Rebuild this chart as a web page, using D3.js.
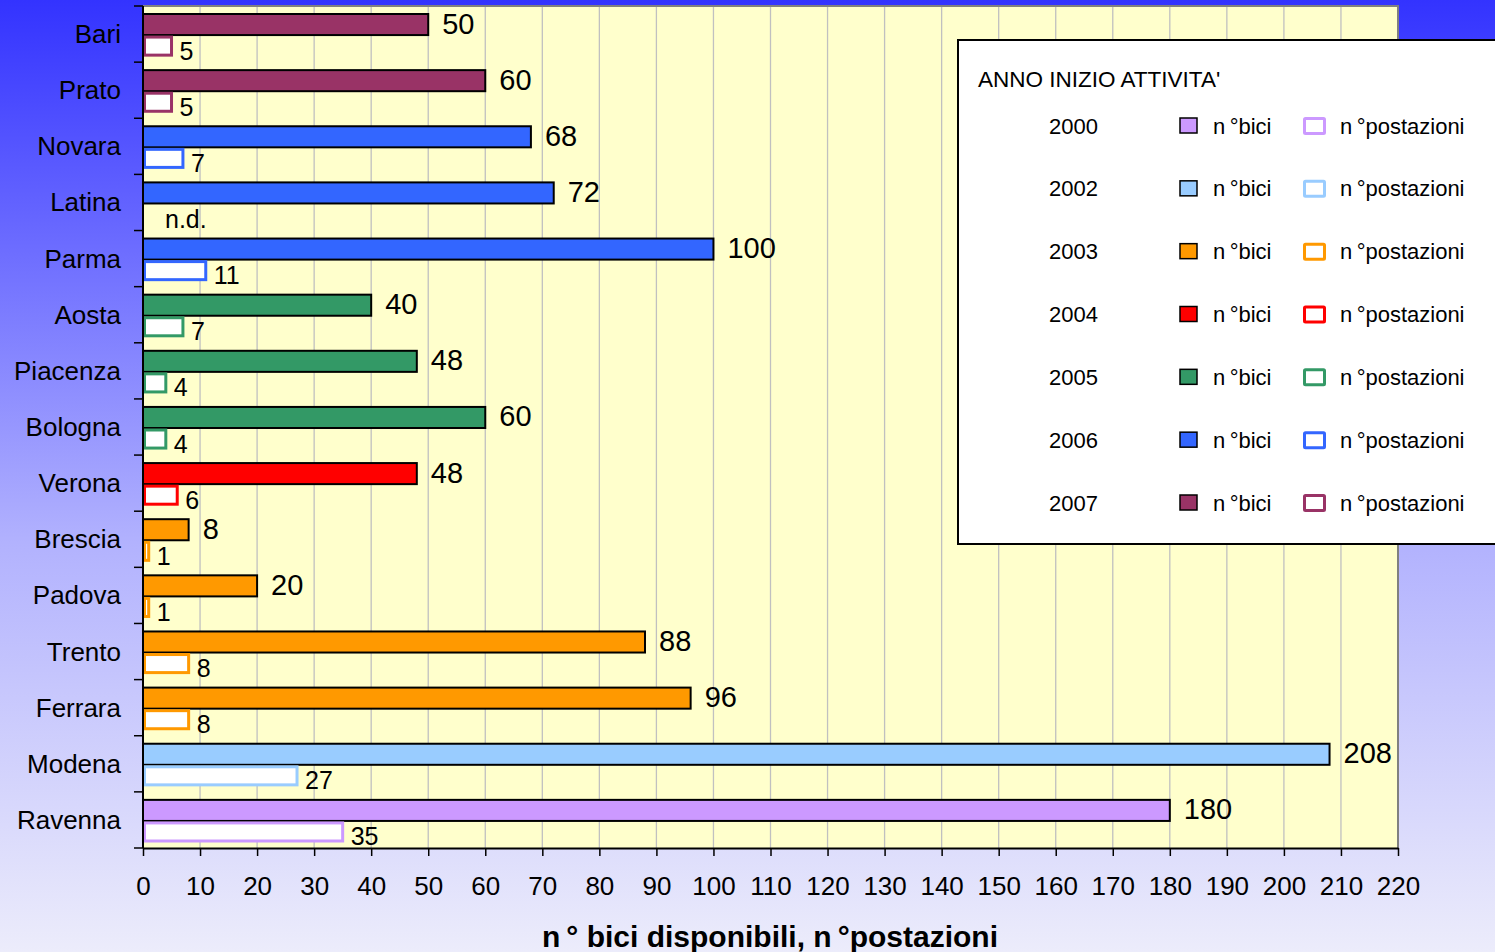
<!DOCTYPE html>
<html>
<head>
<meta charset="utf-8">
<style>
html,body{margin:0;padding:0;}
body{width:1495px;height:952px;overflow:hidden;font-family:"Liberation Sans",Arial,sans-serif;}
svg{display:block;}
</style>
</head>
<body>
<div id="chart"></div>
<script src="https://d3js.org/d3.v7.min.js"></script>
<script>
// data
const cities = ["Bari","Prato","Novara","Latina","Parma","Aosta","Piacenza","Bologna","Verona","Brescia","Padova","Trento","Ferrara","Modena","Ravenna"];
const bici = [50,60,68,72,100,40,48,60,48,8,20,88,96,208,180];
const postazioni = [5,5,7,null,11,7,4,4,6,1,1,8,8,27,35];
const startYear = [2007,2007,2006,2006,2006,2005,2005,2005,2004,2003,2003,2003,2003,2002,2000];
const years = [2000,2002,2003,2004,2005,2006,2007];
const yearColors = ["#cc99ff","#99ccff","#ff9900","#ff0000","#339966","#3366ff","#993366"];
const xTicks = d3.range(0,221,10);

const W = 1495, H = 952;
const svg = d3.select("#chart").append("svg").attr("width",W).attr("height",H);

const defs = svg.append("defs");
const grad = defs.append("linearGradient").attr("id","bg").attr("x1",0).attr("y1",0).attr("x2",0).attr("y2",1);
grad.append("stop").attr("offset","0").attr("stop-color","#3333ff");
grad.append("stop").attr("offset","0.25").attr("stop-color","#6a6aff");
grad.append("stop").attr("offset","0.57").attr("stop-color","#b2b2fe");
grad.append("stop").attr("offset","1").attr("stop-color","#ececfb");
svg.append("rect").attr("width",W).attr("height",H).attr("fill","url(#bg)");

const color = d3.scaleOrdinal().domain(years).range(yearColors);

const x = d3.scaleLinear().domain([0,220]).range([143,1398]);
const y = d3.scaleBand().domain(cities).range([6,848]);
const sub = d3.scaleBand().domain(["bici","post"]).range([8,y.bandwidth()-6]);

// plot area
svg.append("rect")
  .attr("x",x(0)).attr("y",y.range()[0])
  .attr("width",x(220)-x(0)).attr("height",y.range()[1]-y.range()[0])
  .attr("fill","#ffffcc");

// gridlines
svg.append("g").selectAll("line").data(xTicks.slice(1,-1)).enter().append("line")
  .attr("x1",d=>x(d)).attr("x2",d=>x(d))
  .attr("y1",y.range()[0]).attr("y2",y.range()[1])
  .attr("stroke","#c0c0c0").attr("stroke-width",1.3);

// top & right border
svg.append("path")
  .attr("d",`M${x(0)},${y.range()[0]}H${x(220)}V${y.range()[1]}`)
  .attr("fill","none").attr("stroke","#808080").attr("stroke-width",2);

const rows = cities.map((c,i)=>({city:c,bici:bici[i],post:postazioni[i],year:startYear[i]}));

const g = svg.append("g");
// n° bici bars
g.selectAll(".bici").data(rows).enter().append("rect")
  .attr("class","bici")
  .attr("x",x(0))
  .attr("y",d=>y(d.city)+sub("bici"))
  .attr("width",d=>x(d.bici)-x(0))
  .attr("height",sub.bandwidth())
  .attr("fill",d=>color(d.year))
  .attr("stroke","#000").attr("stroke-width",2);

// n° postazioni bars
g.selectAll(".post").data(rows.filter(d=>d.post!=null)).enter().append("rect")
  .attr("class","post")
  .attr("x",x(0)+1.5)
  .attr("y",d=>y(d.city)+sub("post")+2)
  .attr("width",d=>Math.max(0,x(d.post)-x(0)-1.5))
  .attr("height",sub.bandwidth()-3)
  .attr("fill","#fff")
  .attr("stroke",d=>color(d.year)).attr("stroke-width",3);

// value labels
g.selectAll(".lb").data(rows).enter().append("text")
  .attr("x",d=>x(d.bici)+14)
  .attr("y",d=>y(d.city)+sub("bici")+sub.bandwidth()/2-1)
  .attr("dominant-baseline","central")
  .attr("font-size",29).attr("fill","#000")
  .text(d=>d.bici);

g.selectAll(".lp").data(rows).enter().append("text")
  .attr("x",d=>d.post==null ? x(0)+22 : x(d.post)+8)
  .attr("y",d=>y(d.city)+sub("post")+sub.bandwidth()/2+5)
  .attr("dominant-baseline","central")
  .attr("font-size",25).attr("fill","#000")
  .text(d=>d.post==null ? "n.d." : d.post);

// y axis
const yAxis = svg.append("g");
yAxis.append("line").attr("x1",x(0)).attr("x2",x(0)).attr("y1",y.range()[0]).attr("y2",y.range()[1])
  .attr("stroke","#000").attr("stroke-width",2);
yAxis.selectAll(".tk").data(cities.concat(["_end"])).enter().append("line")
  .attr("x1",x(0)-9).attr("x2",x(0))
  .attr("y1",(d,i)=>y.range()[0]+i*y.step()).attr("y2",(d,i)=>y.range()[0]+i*y.step())
  .attr("stroke","#000").attr("stroke-width",1.5);
yAxis.selectAll(".cl").data(cities).enter().append("text")
  .attr("x",121).attr("y",d=>y(d)+y.bandwidth()/2)
  .attr("text-anchor","end").attr("dominant-baseline","central")
  .attr("font-size",26).attr("fill","#000")
  .text(d=>d);

// x axis
const xAxis = svg.append("g").attr("transform",`translate(0,${y.range()[1]})`)
  .call(d3.axisBottom(x).tickValues(xTicks).tickSize(8).tickPadding(21).tickSizeOuter(0));
xAxis.select(".domain").attr("stroke","#000").attr("stroke-width",2);
xAxis.selectAll(".tick line").attr("stroke","#000").attr("stroke-width",1.5);
xAxis.selectAll(".tick text").attr("font-size",26).attr("font-family","Liberation Sans, Arial, sans-serif").attr("fill","#000");

svg.append("text")
  .attr("x",770).attr("y",947)
  .attr("text-anchor","middle")
  .attr("font-size",30).attr("font-weight","bold").attr("fill","#000")
  .text("n\u2009° bici disponibili, n\u2009°postazioni");

// legend
const lg = svg.append("g");
lg.append("rect").attr("x",958).attr("y",40).attr("width",560).attr("height",504)
  .attr("fill","#fff").attr("stroke","#000").attr("stroke-width",2);
lg.append("text").attr("x",978).attr("y",87).attr("font-size",22.5).attr("fill","#000")
  .text("ANNO INIZIO ATTIVITA'");
const ly = d3.scalePoint().domain(years).range([126,503]);
const li = lg.selectAll(".li").data(years).enter().append("g")
  .attr("transform",d=>`translate(0,${ly(d)})`);
li.append("text").attr("x",1049).attr("y",0).attr("dominant-baseline","central")
  .attr("font-size",22).attr("fill","#000").text(d=>d);
li.append("rect").attr("x",1180).attr("y",-8).attr("width",17).attr("height",15)
  .attr("fill",d=>color(d)).attr("stroke","#000").attr("stroke-width",1.5);
li.append("text").attr("x",1213).attr("y",0).attr("dominant-baseline","central")
  .attr("font-size",22).attr("fill","#000").text("n\u2009°bici");
li.append("rect").attr("x",1304.5).attr("y",-7.5).attr("width",20).attr("height",15)
  .attr("fill","#fff").attr("stroke",d=>color(d)).attr("stroke-width",3).attr("rx",1);
li.append("text").attr("x",1340).attr("y",0).attr("dominant-baseline","central")
  .attr("font-size",22).attr("fill","#000").text("n\u2009°postazioni");
</script>
</body>
</html>
